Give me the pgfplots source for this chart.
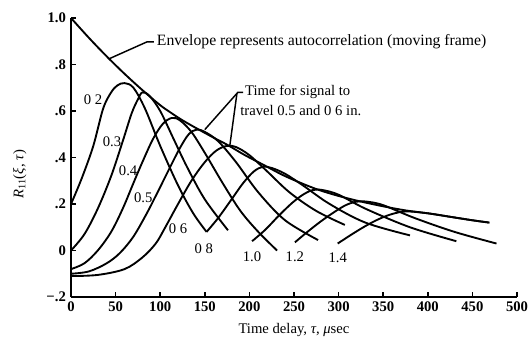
\documentclass[border=0pt]{standalone}
\usepackage{pgfplots}
\pgfplotsset{compat=1.18}
\usepackage{fontspec}
\setmainfont{Liberation Serif}
\begin{document}
\fontsize{11}{13}\selectfont
\begin{tikzpicture}[curve/.style={black, solid, line width=1.4pt, smooth, tension=0.55, mark=none}]
\begin{axis}[
 width=334.5pt, height=209.25pt, scale only axis,
 xmin=0, xmax=500, ymin=-0.2, ymax=1.0,
 axis lines=left, axis line style={-, line width=1.3pt},
 tick align=inside, major tick length=4pt, tick style={line width=1.1pt, black},
 xtick={0,50,...,500}, ytick={-0.2,0,0.2,0.4,0.6,0.8,1.0},
 yticklabels={−.2,0,.2,.4,.6,.8,1.0},
 /pgf/number format/assume math mode=true,
 ticklabel style={font=\fontsize{11}{13}\selectfont\bfseries},
 xlabel={Time delay, \textit{τ}, \textit{μ}sec},
 ylabel={\textit{R}\textsubscript{11}(\textit{ξ}, \textit{τ})},
 xlabel style={at={(axis description cs:0.5,0)}, anchor=center, yshift=-24.75pt},
 ylabel style={at={(axis description cs:-0.115,0.44)}, anchor=center},
 clip=false,
]
% envelope
\addplot[curve] coordinates {(0,1.0)(20,0.915)(40,0.835)(60,0.76)(80,0.69)(100,0.625)(113,0.59)(125,0.56)(141,0.525)(160,0.485)(175,0.455)(195,0.41)(215,0.37)(240,0.32)(271,0.27)(295,0.24)(320,0.215)(350,0.19)(376,0.172)(400,0.16)(425,0.145)(450,0.13)(469,0.12)};
% 0.2
\addplot[curve] coordinates {(0,0.20)(12,0.31)(25,0.45)(36,0.61)(45,0.68)(52,0.71)(60,0.72)(70,0.70)(83,0.61)(100,0.45)(120,0.28)(137,0.16)(152,0.08)};
% 0.3
\addplot[curve] coordinates {(0,0.0)(15,0.07)(30,0.18)(45,0.32)(58,0.47)(68,0.59)(75,0.65)(80,0.68)(88,0.665)(100,0.60)(115,0.48)(130,0.36)(150,0.22)(176,0.087)};
% 0.4
\addplot[curve] coordinates {(0,-0.08)(15,-0.055)(30,0.0)(45,0.08)(58,0.18)(70,0.29)(80,0.38)(92,0.48)(103,0.545)(113,0.57)(122,0.56)(135,0.51)(150,0.42)(170,0.29)(190,0.17)(210,0.08)(231,0.0)};
% 0.5
\addplot[curve] coordinates {(0,-0.1)(20,-0.09)(40,-0.055)(55,-0.01)(70,0.06)(85,0.16)(97,0.25)(110,0.35)(122,0.44)(132,0.5)(141,0.52)(150,0.51)(165,0.47)(185,0.38)(210,0.25)(240,0.13)(277,0.045)};
% 0.6
\addplot[curve] coordinates {(0,-0.11)(30,-0.105)(60,-0.08)(80,-0.03)(95,0.03)(105,0.095)(120,0.2)(135,0.3)(150,0.38)(163,0.43)(175,0.45)(185,0.445)(200,0.41)(220,0.34)(245,0.25)(275,0.17)(307,0.11)};
% 0.8
\addplot[curve] coordinates {(152,0.08)(165,0.14)(180,0.22)(193,0.29)(205,0.34)(215,0.36)(225,0.355)(240,0.33)(260,0.28)(290,0.2)(330,0.12)(380,0.065)};
% 1.0
\addplot[curve] coordinates {(203,0.04)(218,0.09)(233,0.15)(248,0.205)(260,0.24)(271,0.26)(282,0.26)(300,0.24)(330,0.18)(380,0.1)(432,0.04)};
% 1.2
\addplot[curve] coordinates {(251,0.035)(265,0.08)(280,0.125)(295,0.165)(308,0.195)(320,0.21)(332,0.21)(350,0.195)(385,0.14)(430,0.08)(477,0.03)};
% 1.4
\addplot[curve] coordinates {(299,0.03)(315,0.07)(330,0.105)(345,0.135)(360,0.157)(376,0.168)(400,0.16)(425,0.145)(450,0.13)(469,0.12)};
% curve labels
\node at (axis cs:24.7,0.647) {0 2};
\node at (axis cs:46,0.466) {0.3};
\node at (axis cs:64,0.345) {0.4};
\node at (axis cs:81,0.228) {0.5};
\node at (axis cs:120,0.095) {0 6};
\node at (axis cs:149,0.009) {0 8};
\node at (axis cs:203,-0.026) {1.0};
\node at (axis cs:251,-0.026) {1.2};
\node at (axis cs:299,-0.03) {1.4};
% annotations
\draw[line width=1.1pt] (axis cs:43,0.825) -- (axis cs:85,0.897) -- (axis cs:93,0.897);
\node[anchor=west, inner sep=0pt, font=\fontsize{11.8}{14}\selectfont] at (axis cs:96,0.897) {Envelope represents autocorrelation (moving frame)};
\draw[line width=1.1pt] (axis cs:150,0.52) -- (axis cs:187,0.68) -- (axis cs:193,0.68);
\draw[line width=1.1pt] (axis cs:178,0.45) -- (axis cs:186,0.675);
\node[anchor=west, inner sep=0pt] at (axis cs:195,0.68) {Time for signal to};
\node[anchor=west, inner sep=0pt] at (axis cs:189.5,0.6) {travel 0.5 and 0 6 in.};
\coordinate (ll) at (rel axis cs:0,0);
\coordinate (ur) at (rel axis cs:1,1);
\end{axis}
\pgfresetboundingbox
\path ([shift={(-53.25pt,-33.75pt)}]ll) rectangle ([shift={(9pt,13.5pt)}]ur);
\end{tikzpicture}
\end{document}
